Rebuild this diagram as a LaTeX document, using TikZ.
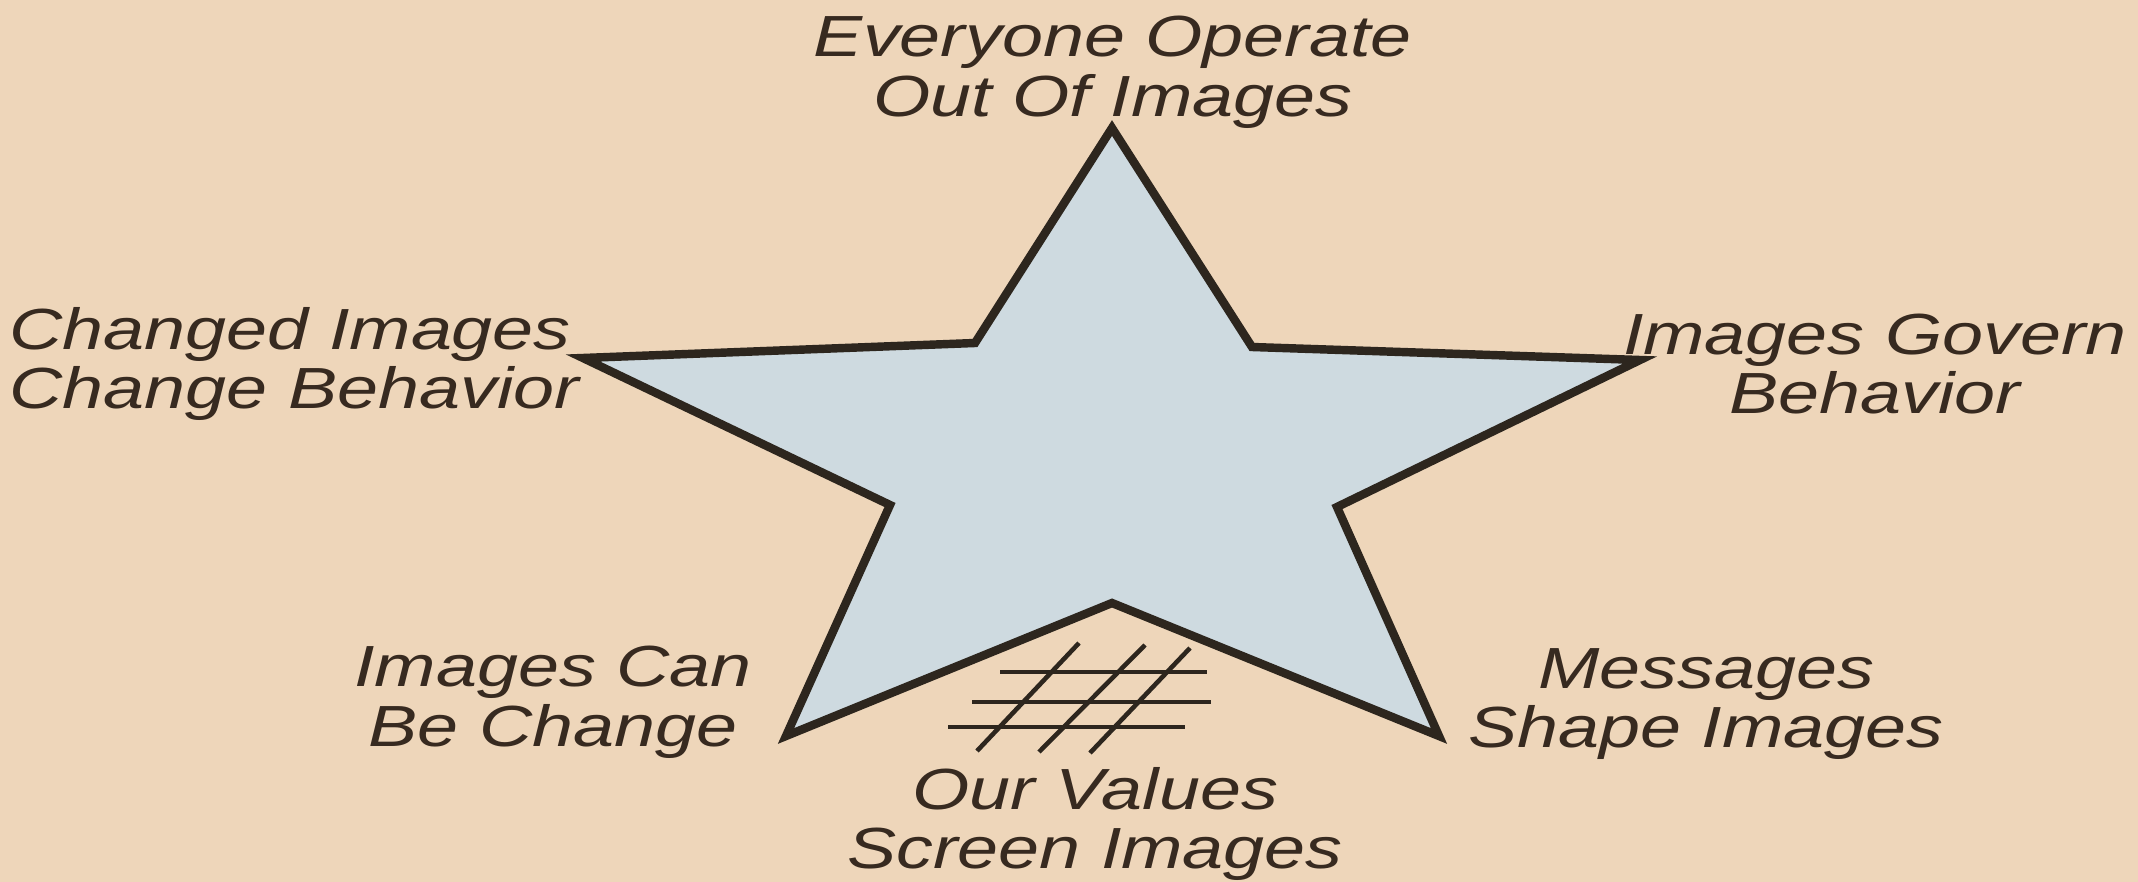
\documentclass[tikz,border=0pt]{standalone}
\usepackage{fontspec}
\newfontfamily\labfont{Liberation Sans}[FakeStretch=1.27]
\definecolor{bgpeach}{RGB}{238,214,186}
\definecolor{starfill}{RGB}{206,218,224}
\definecolor{inkline}{RGB}{45,38,30}
\definecolor{inktext}{RGB}{55,42,32}
\tikzset{
  lbl/.style={text=inktext, font=\labfont\itshape\fontsize{16.5}{17}\selectfont, inner sep=0pt},
  starline/.style={draw=inkline, line width=2.4pt, line join=miter, fill=starfill},
  hashline/.style={draw=inkline, line width=1.3pt}
}
\begin{document}
\begin{tikzpicture}[x=0.01cm,y=-0.01cm]
\fill[bgpeach] (0,0) rectangle (2138,882);
\useasboundingbox (0,0) rectangle (2138,882);
% star vertices
\coordinate (T) at (1112,128);
\coordinate (URi) at (1252,347);
\coordinate (R) at (1640,360);
\coordinate (RLi) at (1337,507);
\coordinate (LR) at (1439,736);
\coordinate (Bi) at (1112,603);
\coordinate (LL) at (786,736);
\coordinate (LLi) at (890,505);
\coordinate (L) at (583,358);
\coordinate (ULi) at (975,343);
\draw[starline] (T) -- (URi) -- (R) -- (RLi) -- (LR) -- (Bi) -- (LL) -- (LLi) -- (L) -- (ULi) -- cycle;
% hash symbol
\coordinate (h1a) at (1000,672); \coordinate (h1b) at (1207,672);
\coordinate (h2a) at (972,702); \coordinate (h2b) at (1211,702);
\coordinate (h3a) at (948,727); \coordinate (h3b) at (1185,727);
\coordinate (s1a) at (1079,643); \coordinate (s1b) at (977,751);
\coordinate (s2a) at (1145,645); \coordinate (s2b) at (1039,752);
\coordinate (s3a) at (1190,648); \coordinate (s3b) at (1090,753);
\draw[hashline] (h1a) -- (h1b);
\draw[hashline] (h2a) -- (h2b);
\draw[hashline] (h3a) -- (h3b);
\draw[hashline] (s1a) -- (s1b);
\draw[hashline] (s2a) -- (s2b);
\draw[hashline] (s3a) -- (s3b);
% labels
\node[lbl, align=center] (top) at (1113,72) {Everyone Operate\\Out Of Images};
\node[lbl, align=left, anchor=west] (ul) at (9,364) {Changed Images\\Change Behavior};
\node[lbl, align=center] (ur) at (1875,364) {Images Govern\\Behavior};
\node[lbl, align=center] (ll) at (553,702) {Images Can\\Be Change};
\node[lbl, align=center] (lr) at (1706,704) {Messages\\Shape Images};
\node[lbl, align=center] (bot) at (1095,824) {Our Values\\Screen Images};
\end{tikzpicture}
\end{document}
